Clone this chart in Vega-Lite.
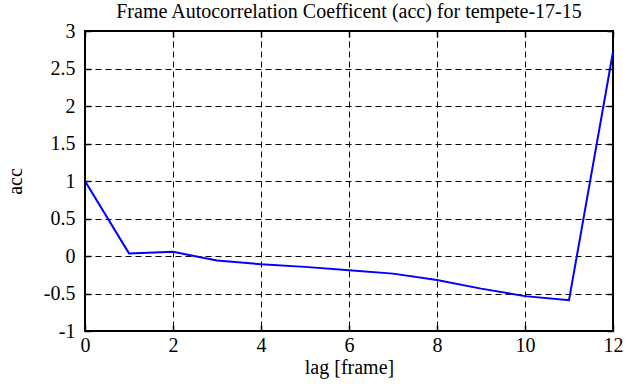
{
  "$schema": "https://vega.github.io/schema/vega-lite/v6.json",
  "autosize": "none",
  "width": 528,
  "height": 300,
  "padding": {"left": 85, "top": 31, "right": 28, "bottom": 56},
  "background": "white",
  "title": {
    "text": "Frame Autocorrelation Coefficent (acc) for tempete-17-15",
    "font": "Liberation Serif",
    "fontSize": 20,
    "fontWeight": "normal",
    "color": "black",
    "baseline": "alphabetic",
    "offset": -17
  },
  "config": {
    "view": {"stroke": "black", "strokeWidth": 2},
    "axis": {
      "labelFont": "Liberation Serif",
      "labelFontSize": 20,
      "labelColor": "black",
      "titleFont": "Liberation Serif",
      "titleFontSize": 20,
      "titleFontWeight": "normal",
      "titleColor": "black",
      "domain": false,
      "tickColor": "black",
      "tickWidth": 1.5,
      "tickSize": -6,
      "gridColor": "black",
      "gridDash": [6, 4],
      "gridWidth": 1,
      "gridOpacity": 1
    }
  },
  "data": {
    "values": [
      {"lag": 0, "acc": 1.0},
      {"lag": 1, "acc": 0.035},
      {"lag": 2, "acc": 0.055},
      {"lag": 3, "acc": -0.06},
      {"lag": 4, "acc": -0.11},
      {"lag": 5, "acc": -0.145},
      {"lag": 6, "acc": -0.19},
      {"lag": 7, "acc": -0.235},
      {"lag": 8, "acc": -0.32},
      {"lag": 9, "acc": -0.435},
      {"lag": 10, "acc": -0.535},
      {"lag": 11, "acc": -0.59},
      {"lag": 12, "acc": 2.72}
    ]
  },
  "layer": [
    {
      "mark": {"type": "line", "color": "#0000ff", "strokeWidth": 2, "clip": true},
      "encoding": {
        "x": {
          "field": "lag", "type": "quantitative",
          "scale": {"domain": [0, 12], "nice": false, "zero": false},
          "axis": {"title": "lag [frame]", "values": [0, 2, 4, 6, 8, 10, 12], "labelPadding": 10, "titlePadding": 2,
                   "labelFont": "Liberation Serif", "labelExpr": "'' + datum.value", "labelFlush": false}
        },
        "y": {
          "field": "acc", "type": "quantitative",
          "scale": {"domain": [-1, 3], "nice": false, "zero": false},
          "axis": {"title": "acc", "values": [-1, -0.5, 0, 0.5, 1, 1.5, 2, 2.5, 3], "labelPadding": 16, "titlePadding": 18,
                   "labelFont": "Liberation Serif", "labelExpr": "'' + datum.value", "labelFlush": false}
        }
      }
    },
    {
      "mark": {"type": "line", "opacity": 0},
      "encoding": {
        "x": {
          "field": "lag", "type": "quantitative",
          "axis": {"orient": "top", "title": null, "labels": false, "grid": false, "values": [0, 2, 4, 6, 8, 10, 12]}
        },
        "y": {
          "field": "acc", "type": "quantitative",
          "axis": {"orient": "right", "title": null, "labels": false, "grid": false, "values": [-1, -0.5, 0, 0.5, 1, 1.5, 2, 2.5, 3]}
        }
      }
    }
  ],
  "resolve": {"axis": {"x": "independent", "y": "independent"}}
}
